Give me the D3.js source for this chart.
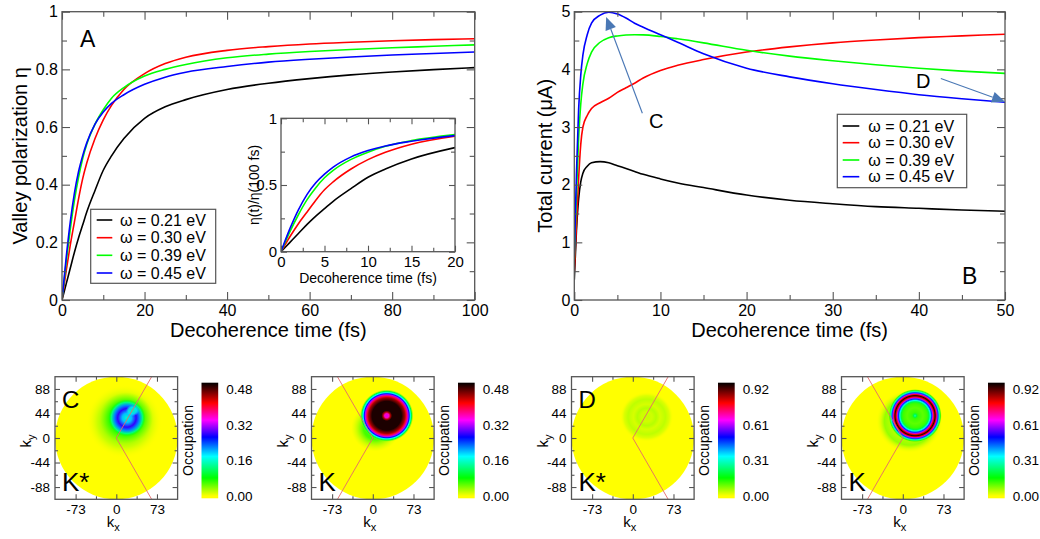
<!DOCTYPE html>
<html><head><meta charset="utf-8">
<script src="https://cdn.jsdelivr.net/npm/d3@7"></script>
<style>
body{margin:0;background:#fff}
svg{display:block}
</style></head>
<body>
<svg id="c" width="1040" height="539"></svg>
<script>
// ---------------- DATA ----------------
const seriesLabels = ["ω = 0.21 eV", "ω = 0.30 eV", "ω = 0.39 eV", "ω = 0.45 eV"];
const seriesColors = ["#000000", "#ff0000", "#00ff00", "#0000ff"];

// Panel A: valley polarization vs decoherence time
const tA = [0,1,2,3,4,5,6,8,10,12,15,20,25,30,40,50,60,70,80,90,100];
const etaW021 = [0,0.055,0.11,0.165,0.215,0.26,0.305,0.38,0.45,0.5,0.56,0.63,0.67,0.695,0.73,0.752,0.768,0.781,0.791,0.799,0.806];
const etaW030 = [0,0.1,0.19,0.27,0.35,0.42,0.475,0.56,0.625,0.675,0.73,0.785,0.82,0.842,0.866,0.879,0.888,0.894,0.899,0.903,0.906];
const etaW039 = [0,0.13,0.245,0.345,0.425,0.49,0.54,0.61,0.66,0.70,0.737,0.777,0.80,0.817,0.84,0.853,0.862,0.869,0.875,0.88,0.885];
const etaW045 = [0,0.145,0.27,0.37,0.445,0.5,0.545,0.61,0.652,0.682,0.712,0.748,0.773,0.79,0.81,0.825,0.835,0.843,0.85,0.855,0.86];

// Inset: eta(t)/eta(100 fs)
const tInset = [0,1,2,3,4,5,6,8,10,12,15,20];
const ratioW021 = [0,0.068,0.136,0.205,0.267,0.323,0.378,0.471,0.558,0.62,0.695,0.78];
const ratioW030 = [0,0.11,0.21,0.298,0.386,0.464,0.524,0.618,0.69,0.745,0.806,0.866];
const ratioW039 = [0,0.147,0.277,0.39,0.48,0.554,0.61,0.69,0.746,0.79,0.833,0.878];
const ratioW045 = [0,0.169,0.314,0.43,0.517,0.581,0.634,0.709,0.758,0.793,0.828,0.87];

// Panel B: total current vs decoherence time
const tB = [0,0.25,0.5,0.75,1,1.5,2,3,4,5,6,7,8,10,12,15,20,25,30,35,40,45,50];
const curW021 = [0.35,1.2,1.75,2.05,2.2,2.32,2.38,2.4,2.38,2.33,2.28,2.23,2.18,2.1,2.03,1.95,1.82,1.73,1.67,1.62,1.59,1.56,1.54];
const curW030 = [0.5,1.3,2.1,2.7,3.0,3.2,3.32,3.42,3.5,3.6,3.68,3.76,3.85,3.98,4.07,4.17,4.3,4.39,4.46,4.51,4.55,4.58,4.61];
const curW039 = [0.7,1.8,2.8,3.4,3.75,4.1,4.3,4.47,4.55,4.58,4.595,4.6,4.598,4.57,4.53,4.46,4.33,4.23,4.15,4.08,4.02,3.97,3.93];
const curW045 = [0.75,2.2,3.3,3.9,4.25,4.6,4.8,4.94,4.99,4.96,4.89,4.8,4.73,4.6,4.47,4.27,4.02,3.87,3.75,3.65,3.56,3.49,3.43];

// Annotations in panel B (data coordinates)
const annotLabels = ["C", "D"];
const annotText = [[9.5, 2.98], [40.5, 3.67]];
const annotFrom = [[7.9, 3.24], [42.55, 3.84]];
const annotTo = [[3.7, 4.91], [50, 3.44]];

// Tick values
const ticksAx = [0,20,40,60,80,100], ticksAxMinor = [10,30,50,70,90];
const ticksAy = [0,0.2,0.4,0.6,0.8,1], ticksAyMinor = [0.1,0.3,0.5,0.7,0.9];
const ticksIx = [0,5,10,15,20], ticksIxMinor = [2.5,7.5,12.5,17.5];
const ticksIy = [0,0.5,1], ticksIyMinor = [0.25,0.75];
const ticksBx = [0,10,20,30,40,50], ticksBxMinor = [5,15,25,35,45];
const ticksBy = [0,1,2,3,4,5], ticksByMinor = [0.5,1.5,2.5,3.5,4.5];
const ticksKx = [-73,0,73], ticksKxMinor = [-36.5,36.5];
const ticksKy = [-88,-44,0,44,88], ticksKyMinor = [-66,-22,22,66];

// Occupation maps
const mapLetters = ["C", "", "D", ""];
const mapValleys = ["K*", "K", "K*", "K"];
const mapZoneDir = [1, -1, 1, -1];
const mapBarDomain = [[-0.01, 0.51], [-0.01, 0.51], [-0.02, 0.98], [-0.02, 0.98]];
const mapBarTicks = [[0,0.16,0.32,0.48],[0,0.16,0.32,0.48],[0,0.31,0.61,0.92],[0,0.31,0.61,0.92]];
const cmapFrac = [0, 0.16, 0.35, 0.52, 0.67, 0.82, 1];
const cmapColors = ["#ffff00", "#00ff00", "#00ffff", "#0000ff", "#ff00ff", "#ff0000", "#000000"];
// blobs: [cx, cy, rx, ry] in k units, profile: [offset, occupation, opacity]
const blobsC_Kstar = [
  {c:[14,30,68,66], p:[[0,0.06,1],[0.4,0.05,1],[0.7,0.025,0.7],[1,0,0]]},
  {c:[18,36,48,46], p:[[0,0.09,1],[0.55,0.08,1],[1,0.04,0]]},
  {c:[19,36,33,33], p:[[0,0.16,1],[0.25,0.2,1],[0.5,0.28,1],[0.68,0.22,1],[0.85,0.13,1],[1,0.08,0]]},
  {c:[29,49,12,10], p:[[0,0.15,1],[0.6,0.17,0.8],[1,0.18,0]]}
];
const blobsC_K = [
  {c:[5,18,44,42], p:[[0,0.08,1],[0.5,0.065,0.9],[1,0.02,0]]},
  {c:[25,40,48,47], p:[[0,0.33,1],[0.08,0.36,1],[0.14,0.45,1],[0.2,0.5,1],[0.55,0.5,1],[0.68,0.45,1],[0.74,0.4,1],[0.8,0.32,1],[0.84,0.26,1],[0.88,0.18,1],[0.93,0.1,1],[1,0.03,0]]}
];
const blobsD_Kstar = [
  {c:[25,38,48,45], p:[[0,0.035,1],[0.2,0.03,1],[0.35,0.045,1],[0.5,0.025,1],[0.7,0.04,1],[0.85,0.02,1],[1,0,0]]}
];
const blobsD_K = [
  {c:[12,30,60,57], p:[[0,0.05,1],[0.6,0.05,1],[0.75,0.065,1],[0.85,0.03,0.8],[1,0,0]]},
  {c:[22,40,48,48], p:[[0,0.3,1],[0.06,0.2,1],[0.12,0.12,1],[0.3,0.1,1],[0.45,0.12,1],[0.52,0.2,1],[0.57,0.33,1],[0.62,0.48,1],[0.66,0.62,1],[0.7,0.8,1],[0.75,0.96,1],[0.79,0.8,1],[0.82,0.62,1],[0.86,0.47,1],[0.9,0.3,1],[0.95,0.12,1],[1,0.04,0]]}
];
const mapBlobs = [blobsC_Kstar, blobsC_K, blobsD_Kstar, blobsD_K];

// ---------------- DRAWING ----------------
const FONT = '"Liberation Sans", Arial, Helvetica, sans-serif';
const FRAME = "#555";
const svg = d3.select("#c").attr("font-family", FONT);
const defs = svg.append("defs");

function frame(g, x, y, o) {
  const [x0, x1] = x.range(), [y0, y1] = y.range();
  const style = sel => {
    sel.select(".domain").remove();
    sel.selectAll(".tick line").attr("stroke", FRAME).attr("stroke-width", 1.1);
    sel.attr("font-size", o.fs).attr("font-family", FONT);
    sel.selectAll("text").attr("fill", "#000");
  };
  const none = () => "";
  g.append("g").attr("transform", `translate(0,${y0})`)
    .call(d3.axisBottom(x).tickValues(o.xt).tickSize(-o.maj).tickPadding(o.padx).tickFormat(o.xf)).call(style);
  g.append("g").attr("transform", `translate(0,${y0})`)
    .call(d3.axisBottom(x).tickValues(o.xm).tickSize(-o.min).tickFormat(none)).call(style);
  g.append("g").attr("transform", `translate(0,${y1})`)
    .call(d3.axisTop(x).tickValues(o.xt).tickSize(-o.maj).tickFormat(none)).call(style);
  g.append("g").attr("transform", `translate(0,${y1})`)
    .call(d3.axisTop(x).tickValues(o.xm).tickSize(-o.min).tickFormat(none)).call(style);
  g.append("g").attr("transform", `translate(${x0},0)`)
    .call(d3.axisLeft(y).tickValues(o.yt).tickSize(-o.maj).tickPadding(o.pady).tickFormat(o.yf)).call(style);
  g.append("g").attr("transform", `translate(${x0},0)`)
    .call(d3.axisLeft(y).tickValues(o.ym).tickSize(-o.min).tickFormat(none)).call(style);
  g.append("g").attr("transform", `translate(${x1},0)`)
    .call(d3.axisRight(y).tickValues(o.yt).tickSize(-o.maj).tickFormat(none)).call(style);
  g.append("g").attr("transform", `translate(${x1},0)`)
    .call(d3.axisRight(y).tickValues(o.ym).tickSize(-o.min).tickFormat(none)).call(style);
  g.append("rect").attr("x", x0).attr("y", y1).attr("width", x1 - x0).attr("height", y0 - y1)
    .attr("fill", "none").attr("stroke", FRAME).attr("stroke-width", 1.3);
}

function curves(g, x, y, tArr, series, clipId) {
  const [x0, x1] = x.range(), [y0, y1] = y.range();
  defs.append("clipPath").attr("id", clipId).append("rect")
    .attr("x", x0).attr("y", y1).attr("width", x1 - x0).attr("height", y0 - y1);
  const line = d3.line().x((d, i) => x(tArr[i])).y(d => y(d)).curve(d3.curveMonotoneX);
  g.append("g").attr("clip-path", `url(#${clipId})`).selectAll("path").data(series).join("path")
    .attr("d", d => line(d)).attr("fill", "none")
    .attr("stroke", (d, i) => seriesColors[i]).attr("stroke-width", 1.6);
}

function legend(g, x0, y0, w, h, rowY, lineX0, lineX1, textX) {
  g.append("rect").attr("x", x0).attr("y", y0).attr("width", w).attr("height", h)
    .attr("fill", "#fff").attr("stroke", FRAME).attr("stroke-width", 1.2);
  seriesLabels.forEach((lab, i) => {
    const yy = rowY[i];
    g.append("line").attr("x1", lineX0).attr("x2", lineX1).attr("y1", yy).attr("y2", yy)
      .attr("stroke", seriesColors[i]).attr("stroke-width", 1.6);
    g.append("text").attr("x", textX).attr("y", yy).attr("dy", "0.35em").attr("font-size", 16).text(lab);
  });
}

const fmtG = d => String(d);

// ---- Panel A ----
const xA = d3.scaleLinear([0, 100], [62, 474.7]);
const yA = d3.scaleLinear([0, 1], [300, 11.7]);
const gA = svg.append("g");
curves(gA, xA, yA, tA, [etaW021, etaW030, etaW039, etaW045], "clipA");
frame(gA, xA, yA, {xt: ticksAx, xm: ticksAxMinor, yt: ticksAy, ym: ticksAyMinor, maj: 8, min: 5, fs: 16, padx: 5, pady: 4, xf: fmtG, yf: fmtG});
gA.append("text").attr("x", xA(50)).attr("y", 337).attr("text-anchor", "middle").attr("font-size", 20).text("Decoherence time (fs)");
gA.append("text").attr("transform", `translate(20,${yA(0.5)}) rotate(-90)`).attr("dy", "0.35em")
  .attr("text-anchor", "middle").attr("font-size", 20).text("Valley polarization η");
gA.append("text").attr("x", 80).attr("y", 46.5).attr("font-size", 23).text("A");
legend(gA, 90.7, 209.3, 125, 74, [220, 237.7, 255.3, 273], 96.7, 112.3, 120);

// Inset
const xI = d3.scaleLinear([0, 20], [281, 455]);
const yI = d3.scaleLinear([0, 1], [251.7, 118.3]);
const gI = svg.append("g");
gI.append("rect").attr("x", 281).attr("y", 118.3).attr("width", 174).attr("height", 133.4).attr("fill", "#fff");
curves(gI, xI, yI, tInset, [ratioW021, ratioW030, ratioW039, ratioW045], "clipI");
frame(gI, xI, yI, {xt: ticksIx, xm: ticksIxMinor, yt: ticksIy, ym: ticksIyMinor, maj: 6, min: 4, fs: 15, padx: 5, pady: 4, xf: fmtG, yf: fmtG});
gI.append("text").attr("x", xI(10)).attr("y", 283).attr("text-anchor", "middle").attr("font-size", 14).text("Decoherence time (fs)");
gI.append("text").attr("transform", `translate(254,${yI(0.5)}) rotate(-90)`).attr("dy", "0.35em")
  .attr("text-anchor", "middle").attr("font-size", 14).text("η(t)/η(100 fs)");

// ---- Panel B ----
const xB = d3.scaleLinear([0, 50], [574.3, 1005]);
const yB = d3.scaleLinear([0, 5], [300, 11.7]);
const gB = svg.append("g");
curves(gB, xB, yB, tB, [curW021, curW030, curW039, curW045], "clipB");
frame(gB, xB, yB, {xt: ticksBx, xm: ticksBxMinor, yt: ticksBy, ym: ticksByMinor, maj: 8, min: 5, fs: 16, padx: 5, pady: 4, xf: fmtG, yf: fmtG});
gB.append("text").attr("x", xB(25)).attr("y", 337).attr("text-anchor", "middle").attr("font-size", 20).text("Decoherence time (fs)");
gB.append("text").attr("transform", `translate(545,${yB(2.5)}) rotate(-90)`).attr("dy", "0.35em")
  .attr("text-anchor", "middle").attr("font-size", 20).text("Total current (μA)");
gB.append("text").attr("x", 962).attr("y", 283.5).attr("font-size", 23).text("B");
legend(gB, 837.3, 114.3, 129.4, 73.4, [126, 142.7, 160, 176.7], 842.7, 859.3, 868.3);

const ARROW = "#4a78b5";
annotLabels.forEach((lab, i) => {
  gB.append("text").attr("x", xB(annotText[i][0])).attr("y", yB(annotText[i][1]))
    .attr("text-anchor", "middle").attr("font-size", 20).text(lab);
  const x1 = xB(annotFrom[i][0]), y1 = yB(annotFrom[i][1]);
  const x2 = xB(annotTo[i][0]), y2 = yB(annotTo[i][1]);
  const a = Math.atan2(y2 - y1, x2 - x1), L = 13, Wd = 5.5;
  const bx = x2 - L * Math.cos(a), by = y2 - L * Math.sin(a);
  gB.append("line").attr("x1", x1).attr("y1", y1).attr("x2", bx).attr("y2", by)
    .attr("stroke", ARROW).attr("stroke-width", 1.1);
  const px = -Math.sin(a) * Wd, py = Math.cos(a) * Wd;
  gB.append("polygon").attr("points", `${x2},${y2} ${bx + px},${by + py} ${bx - px},${by - py}`).attr("fill", ARROW);
});

// ---- Occupation maps ----
const mapLeft = [55, 311.5, 571.5, 841.5];
const mapTop = 376.7, mapSize = 122.6;
mapLeft.forEach((L, m) => {
  const g = svg.append("g");
  const kx = d3.scaleLinear([-110, 110], [L, L + mapSize]);
  const ky = d3.scaleLinear([-110, 110], [mapTop + mapSize, mapTop]);
  const [bMin, bMax] = mapBarDomain[m];
  // occupation 0 -> yellow, top of bar -> black
  const cmap = d3.scaleLinear().domain(cmapFrac.map(f => f * bMax)).range(cmapColors).clamp(true);

  const clipId = "circ" + m, boxId = "box" + m;
  defs.append("clipPath").attr("id", clipId).append("ellipse")
    .attr("cx", kx(0)).attr("cy", ky(0)).attr("rx", kx(110) - kx(0)).attr("ry", ky(0) - ky(110));
  defs.append("clipPath").attr("id", boxId).append("rect")
    .attr("x", L).attr("y", mapTop).attr("width", mapSize).attr("height", mapSize);

  const hg = g.append("g").attr("clip-path", `url(#${clipId})`);
  hg.append("rect").attr("x", L).attr("y", mapTop).attr("width", mapSize).attr("height", mapSize).attr("fill", cmap(0));
  mapBlobs[m].forEach((b, j) => {
    const gid = `grad${m}_${j}`;
    const rg = defs.append("radialGradient").attr("id", gid);
    b.p.forEach(s => rg.append("stop").attr("offset", s[0]).attr("stop-color", cmap(s[1])).attr("stop-opacity", s[2]));
    hg.append("ellipse").attr("cx", kx(b.c[0])).attr("cy", ky(b.c[1]))
      .attr("rx", kx(b.c[2]) - kx(0)).attr("ry", ky(0) - ky(b.c[3])).attr("fill", `url(#${gid})`);
  });
  // zone boundary
  const d = mapZoneDir[m];
  g.append("g").attr("clip-path", `url(#${boxId})`).append("polyline")
    .attr("points", [[d * 75, 130], [0, 0], [d * 75, -130]].map(p => `${kx(p[0])},${ky(p[1])}`).join(" "))
    .attr("fill", "none").attr("stroke", "#e46a6a").attr("stroke-width", 0.9);

  frame(g, kx, ky, {xt: ticksKx, xm: ticksKxMinor, yt: ticksKy, ym: ticksKyMinor, maj: 5, min: 3, fs: 13.5, padx: 5, pady: 5, xf: fmtG, yf: fmtG});

  // axis labels
  const tx = g.append("text").attr("x", kx(0) - 3).attr("y", 526.5).attr("text-anchor", "middle").attr("font-size", 15);
  tx.append("tspan").text("k");
  tx.append("tspan").attr("font-size", 11).attr("dy", 4).text("x");
  const ty = g.append("text").attr("transform", `translate(${L - 29},${ky(0) + 3}) rotate(-90)`).attr("dy", "0.35em")
    .attr("text-anchor", "middle").attr("font-size", 15);
  ty.append("tspan").text("k");
  ty.append("tspan").attr("font-size", 11).attr("dy", 4).text("y");

  // letters
  if (mapLetters[m]) g.append("text").attr("x", L + 7).attr("y", 407.5).attr("font-size", 24).text(mapLetters[m]);
  g.append("text").attr("x", L + 7).attr("y", 490.5).attr("font-size", 26).text(mapValleys[m]);

  // colorbar
  const cbX = L + 146.5, cbW = 16.7;
  const cy = d3.scaleLinear(mapBarDomain[m], [498.3, 382.7]);
  const lg = defs.append("linearGradient").attr("id", "cb" + m).attr("x1", 0).attr("y1", 1).attr("x2", 0).attr("y2", 0);
  lg.append("stop").attr("offset", 0).attr("stop-color", cmapColors[0]);
  cmapFrac.forEach((f, i) => lg.append("stop").attr("offset", (f * bMax - bMin) / (bMax - bMin)).attr("stop-color", cmapColors[i]));
  g.append("rect").attr("x", cbX).attr("y", 382.7).attr("width", cbW).attr("height", 115.6).attr("fill", `url(#cb${m})`);
  g.append("g").selectAll("text").data(mapBarTicks[m]).join("text")
    .attr("x", cbX + cbW + 8).attr("y", v => cy(v)).attr("dy", "0.35em").attr("font-size", 13.5)
    .text(v => d3.format(".2f")(v));
  g.append("text").attr("transform", `translate(${L + 133},${cy((bMin + bMax) / 2)}) rotate(-90)`).attr("dy", "0.35em")
    .attr("text-anchor", "middle").attr("font-size", 14).text("Occupation");
});
</script>
</body></html>
